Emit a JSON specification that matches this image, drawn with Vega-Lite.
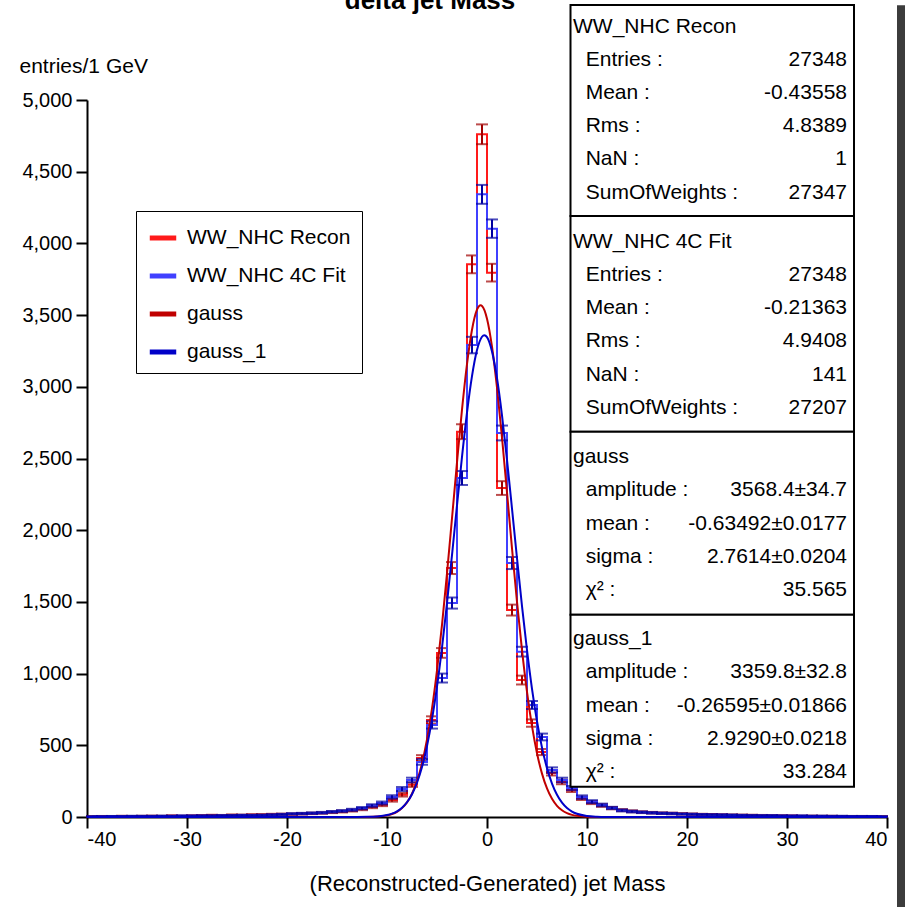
{
  "$schema": "https://vega.github.io/schema/vega-lite/v6.json",
  "width": 800,
  "height": 717,
  "autosize": {"type": "none"},
  "padding": {"left": 87, "top": 100, "right": 18, "bottom": 90},
  "background": "white",
  "config": {"font": "Liberation Sans", "view": {"stroke": null}},
  "title": {"text": "delta jet Mass", "font": "Liberation Sans", "fontSize": 26, "fontWeight": "bold", "color": "black", "anchor": "middle", "frame": "group", "dx": -57, "offset": -31, "baseline": "alphabetic"},
  "datasets": {
    "recon": [
      {"x":-39.5,"n":4,"e":2},{"x":-38.5,"n":5,"e":2.2},{"x":-37.5,"n":4,"e":2},{"x":-36.5,"n":6,"e":2.4},{"x":-35.5,"n":5,"e":2.2},{"x":-34.5,"n":6,"e":2.4},{"x":-33.5,"n":7,"e":2.6},{"x":-32.5,"n":6,"e":2.4},{"x":-31.5,"n":8,"e":2.8},{"x":-30.5,"n":7,"e":2.6},
      {"x":-29.5,"n":9,"e":3},{"x":-28.5,"n":10,"e":3.2},{"x":-27.5,"n":12,"e":3.5},{"x":-26.5,"n":11,"e":3.3},{"x":-25.5,"n":14,"e":3.7},{"x":-24.5,"n":13,"e":3.6},{"x":-23.5,"n":15,"e":3.9},{"x":-22.5,"n":16,"e":4},{"x":-21.5,"n":18,"e":4.2},{"x":-20.5,"n":19,"e":4.4},
      {"x":-19.5,"n":20,"e":4.5},{"x":-18.5,"n":22,"e":4.7},{"x":-17.5,"n":25,"e":5},{"x":-16.5,"n":28,"e":5.3},{"x":-15.5,"n":33,"e":5.7},{"x":-14.5,"n":38,"e":6.2},{"x":-13.5,"n":45,"e":6.7},{"x":-12.5,"n":55,"e":7.4},{"x":-11.5,"n":70,"e":8.4},{"x":-10.5,"n":85,"e":9.2},
      {"x":-9.5,"n":118,"e":10.9},{"x":-8.5,"n":155,"e":12.4},{"x":-7.5,"n":225,"e":15},{"x":-6.5,"n":411,"e":20.3},{"x":-5.5,"n":676,"e":26},{"x":-4.5,"n":1144,"e":33.8},{"x":-3.5,"n":1736,"e":41.7},{"x":-2.5,"n":2687,"e":51.8},{"x":-1.5,"n":3854,"e":62.1},{"x":-0.5,"n":4761,"e":69},
      {"x":0.5,"n":3796,"e":61.6},{"x":1.5,"n":2294,"e":47.9},{"x":2.5,"n":1443,"e":38},{"x":3.5,"n":955,"e":30.9},{"x":4.5,"n":655,"e":25.6},{"x":5.5,"n":453,"e":21.3},{"x":6.5,"n":307,"e":17.5},{"x":7.5,"n":244,"e":15.6},{"x":8.5,"n":188,"e":13.7},{"x":9.5,"n":130,"e":11.4},
      {"x":10.5,"n":100,"e":10},{"x":11.5,"n":80,"e":8.9},{"x":12.5,"n":62,"e":7.9},{"x":13.5,"n":48,"e":6.9},{"x":14.5,"n":40,"e":6.3},{"x":15.5,"n":34,"e":5.8},{"x":16.5,"n":30,"e":5.5},{"x":17.5,"n":27,"e":5.2},{"x":18.5,"n":25,"e":5},{"x":19.5,"n":22,"e":4.7},
      {"x":20.5,"n":20,"e":4.5},{"x":21.5,"n":18,"e":4.2},{"x":22.5,"n":17,"e":4.1},{"x":23.5,"n":15,"e":3.9},{"x":24.5,"n":14,"e":3.7},{"x":25.5,"n":13,"e":3.6},{"x":26.5,"n":12,"e":3.5},{"x":27.5,"n":11,"e":3.3},{"x":28.5,"n":10,"e":3.2},{"x":29.5,"n":9,"e":3},
      {"x":30.5,"n":8,"e":2.8},{"x":31.5,"n":7,"e":2.6},{"x":32.5,"n":7,"e":2.6},{"x":33.5,"n":6,"e":2.4},{"x":34.5,"n":6,"e":2.4},{"x":35.5,"n":5,"e":2.2},{"x":36.5,"n":5,"e":2.2},{"x":37.5,"n":5,"e":2.2},{"x":38.5,"n":4,"e":2},{"x":39.5,"n":4,"e":2}
    ],
    "fit": [
      {"x":-39.5,"n":4,"e":2},{"x":-38.5,"n":4,"e":2},{"x":-37.5,"n":5,"e":2.2},{"x":-36.5,"n":5,"e":2.2},{"x":-35.5,"n":6,"e":2.4},{"x":-34.5,"n":6,"e":2.4},{"x":-33.5,"n":6,"e":2.4},{"x":-32.5,"n":7,"e":2.6},{"x":-31.5,"n":7,"e":2.6},{"x":-30.5,"n":8,"e":2.8},
      {"x":-29.5,"n":8,"e":2.8},{"x":-28.5,"n":9,"e":3},{"x":-27.5,"n":9,"e":3},{"x":-26.5,"n":10,"e":3.2},{"x":-25.5,"n":11,"e":3.3},{"x":-24.5,"n":12,"e":3.5},{"x":-23.5,"n":12,"e":3.5},{"x":-22.5,"n":13,"e":3.6},{"x":-21.5,"n":15,"e":3.9},{"x":-20.5,"n":18,"e":4.2},
      {"x":-19.5,"n":22,"e":4.7},{"x":-18.5,"n":24,"e":4.9},{"x":-17.5,"n":27,"e":5.2},{"x":-16.5,"n":30,"e":5.5},{"x":-15.5,"n":36,"e":6},{"x":-14.5,"n":42,"e":6.5},{"x":-13.5,"n":50,"e":7.1},{"x":-12.5,"n":62,"e":7.9},{"x":-11.5,"n":80,"e":8.9},{"x":-10.5,"n":98,"e":9.9},
      {"x":-9.5,"n":140,"e":11.8},{"x":-8.5,"n":195,"e":14},{"x":-7.5,"n":258,"e":16.1},{"x":-6.5,"n":384,"e":19.6},{"x":-5.5,"n":642,"e":25.3},{"x":-4.5,"n":969,"e":31.1},{"x":-3.5,"n":1492,"e":38.6},{"x":-2.5,"n":2364,"e":48.6},{"x":-1.5,"n":3291,"e":57.4},{"x":-0.5,"n":4342,"e":65.9},
      {"x":0.5,"n":4103,"e":64.1},{"x":1.5,"n":2678,"e":51.7},{"x":2.5,"n":1771,"e":42.1},{"x":3.5,"n":1153,"e":34},{"x":4.5,"n":781,"e":27.9},{"x":5.5,"n":558,"e":23.6},{"x":6.5,"n":328,"e":18.1},{"x":7.5,"n":258,"e":16.1},{"x":8.5,"n":202,"e":14.2},{"x":9.5,"n":139,"e":11.8},
      {"x":10.5,"n":107,"e":10.3},{"x":11.5,"n":84,"e":9.2},{"x":12.5,"n":63,"e":7.9},{"x":13.5,"n":46,"e":6.8},{"x":14.5,"n":38,"e":6.2},{"x":15.5,"n":33,"e":5.7},{"x":16.5,"n":29,"e":5.4},{"x":17.5,"n":26,"e":5.1},{"x":18.5,"n":24,"e":4.9},{"x":19.5,"n":21,"e":4.6},
      {"x":20.5,"n":19,"e":4.4},{"x":21.5,"n":17,"e":4.1},{"x":22.5,"n":16,"e":4},{"x":23.5,"n":15,"e":3.9},{"x":24.5,"n":14,"e":3.7},{"x":25.5,"n":12,"e":3.5},{"x":26.5,"n":11,"e":3.3},{"x":27.5,"n":10,"e":3.2},{"x":28.5,"n":10,"e":3.2},{"x":29.5,"n":9,"e":3},
      {"x":30.5,"n":8,"e":2.8},{"x":31.5,"n":8,"e":2.8},{"x":32.5,"n":7,"e":2.6},{"x":33.5,"n":7,"e":2.6},{"x":34.5,"n":6,"e":2.4},{"x":35.5,"n":6,"e":2.4},{"x":36.5,"n":5,"e":2.2},{"x":37.5,"n":5,"e":2.2},{"x":38.5,"n":5,"e":2.2},{"x":39.5,"n":4,"e":2}
    ],
    "gR": [
      {"x":-40,"n":0},{"x":-13,"n":0.1},{"x":-12,"n":0.75},{"x":-11,"n":3.1},{"x":-10,"n":11.3},{"x":-9.5,"n":20.6},{"x":-9,"n":36.3},{"x":-8.5,"n":61.8},{"x":-8,"n":101.8},{"x":-7.5,"n":162.4},{"x":-7,"n":250.4},{"x":-6.5,"n":373.9},{"x":-6,"n":540.5},{"x":-5.5,"n":755.8},{"x":-5,"n":1023.1},{"x":-4.5,"n":1339.9},{"x":-4,"n":1698.3},{"x":-3.5,"n":2083.3},{"x":-3,"n":2472.8},{"x":-2.5,"n":2840.7},{"x":-2,"n":3157.9},{"x":-1.5,"n":3397.5},{"x":-1,"n":3537.4},{"x":-0.635,"n":3568.4},{"x":-0.5,"n":3564.1},{"x":0,"n":3475.3},{"x":0.5,"n":3279.4},{"x":1,"n":2994.7},{"x":1.5,"n":2646.6},{"x":2,"n":2263.5},{"x":2.5,"n":1873.3},{"x":3,"n":1500.3},{"x":3.5,"n":1163.1},{"x":4,"n":872.4},{"x":4.5,"n":633.3},{"x":5,"n":444.9},{"x":5.5,"n":302.4},{"x":6,"n":199},{"x":6.5,"n":126.7},{"x":7,"n":78.1},{"x":7.5,"n":46.6},{"x":8,"n":26.9},{"x":8.5,"n":15},{"x":9,"n":8.1},{"x":10,"n":2.1},{"x":11,"n":0.5},{"x":12,"n":0.1},{"x":40,"n":0}
    ],
    "gB": [
      {"x":-40,"n":0},{"x":-13,"n":0.2},{"x":-12,"n":1.1},{"x":-11,"n":4.1},{"x":-10,"n":13.4},{"x":-9.5,"n":23.3},{"x":-9,"n":39.4},{"x":-8.5,"n":64.6},{"x":-8,"n":102.9},{"x":-7.5,"n":159.1},{"x":-7,"n":239},{"x":-6.5,"n":348.8},{"x":-6,"n":494.4},{"x":-5.5,"n":680.7},{"x":-5,"n":910.1},{"x":-4.5,"n":1181.8},{"x":-4,"n":1490.7},{"x":-3.5,"n":1826.4},{"x":-3,"n":2173.3},{"x":-2.5,"n":2511.9},{"x":-2,"n":2819.8},{"x":-1.5,"n":3074.5},{"x":-1,"n":3256},{"x":-0.5,"n":3349.1},{"x":-0.266,"n":3359.8},{"x":0,"n":3346},{"x":0.5,"n":3246.8},{"x":1,"n":3060.2},{"x":1.5,"n":2801.4},{"x":2,"n":2490.9},{"x":2.5,"n":2151.1},{"x":3,"n":1804.4},{"x":3.5,"n":1470},{"x":4,"n":1163.2},{"x":4.5,"n":894},{"x":5,"n":667.5},{"x":5.5,"n":483.9},{"x":6,"n":340.8},{"x":6.5,"n":233.1},{"x":7,"n":154.9},{"x":7.5,"n":99.9},{"x":8,"n":62.6},{"x":8.5,"n":38.1},{"x":9,"n":22.5},{"x":10,"n":7.2},{"x":11,"n":2.1},{"x":12,"n":0.5},{"x":13,"n":0.1},{"x":40,"n":0}
    ],
    "stats": [
      {"kind":"h","line":0,"label":"WW_NHC Recon","value":""},
      {"kind":"r","line":1,"label":"Entries :","value":"27348"},
      {"kind":"r","line":2,"label":"Mean :","value":"-0.43558"},
      {"kind":"r","line":3,"label":"Rms :","value":"4.8389"},
      {"kind":"r","line":4,"label":"NaN :","value":"1"},
      {"kind":"r","line":5,"label":"SumOfWeights :","value":"27347"},
      {"kind":"h","line":6.5,"label":"WW_NHC 4C Fit","value":""},
      {"kind":"r","line":7.5,"label":"Entries :","value":"27348"},
      {"kind":"r","line":8.5,"label":"Mean :","value":"-0.21363"},
      {"kind":"r","line":9.5,"label":"Rms :","value":"4.9408"},
      {"kind":"r","line":10.5,"label":"NaN :","value":"141"},
      {"kind":"r","line":11.5,"label":"SumOfWeights :","value":"27207"},
      {"kind":"h","line":13,"label":"gauss","value":""},
      {"kind":"r","line":14,"label":"amplitude :","value":"3568.4±34.7"},
      {"kind":"r","line":15,"label":"mean :","value":"-0.63492±0.0177"},
      {"kind":"r","line":16,"label":"sigma :","value":"2.7614±0.0204"},
      {"kind":"r","line":17,"label":"χ² :","value":"35.565"},
      {"kind":"h","line":18.5,"label":"gauss_1","value":""},
      {"kind":"r","line":19.5,"label":"amplitude :","value":"3359.8±32.8"},
      {"kind":"r","line":20.5,"label":"mean :","value":"-0.26595±0.01866"},
      {"kind":"r","line":21.5,"label":"sigma :","value":"2.9290±0.0218"},
      {"kind":"r","line":22.5,"label":"χ² :","value":"33.284"}
    ]
  },
  "layer": [
    {
      "encoding": {
        "x": {"field": "x", "type": "quantitative", "scale": {"domain": [-40, 40], "nice": false, "zero": false},
          "axis": {"values": [-40,-30,-20,-10,0,10,20,30,40], "labelExpr": "datum.value", "grid": false, "title": "(Reconstructed-Generated) jet Mass",
            "labelFont": "Liberation Sans", "labelFontSize": 20, "labelColor": "black", "labelPadding": 1,
            "titleFont": "Liberation Sans", "titleFontSize": 22, "titleFontWeight": "normal", "titleColor": "black", "titlePadding": 24,
            "domainColor": "black", "domainWidth": 2, "tickColor": "black", "tickWidth": 2, "tickSize": 11,
            "encode": {"ticks": {"update": {"y": {"value": -11}}}}}},
        "y": {"field": "n", "type": "quantitative", "scale": {"domain": [0, 5000], "nice": false},
          "axis": {"values": [0,500,1000,1500,2000,2500,3000,3500,4000,4500,5000], "format": ",d", "grid": false, "title": "entries/1 GeV",
            "labelFont": "Liberation Sans", "labelFontSize": 20, "labelColor": "black", "labelPadding": 4,
            "titleFont": "Liberation Sans", "titleFontSize": 21, "titleFontWeight": "normal", "titleColor": "black",
            "titleAngle": 0, "titleAlign": "left", "titleBaseline": "middle", "titleX": -68, "titleY": -34,
            "domainColor": "black", "domainWidth": 2, "tickColor": "black", "tickWidth": 2, "tickSize": 11,
            "encode": {"ticks": {"update": {"x": {"value": 11}}}}}}
      },
      "layer": [
        {"data": {"name": "recon"}, "mark": {"type": "line", "interpolate": "step", "strokeWidth": 2},
          "encoding": {"color": {"datum": "WW_NHC Recon", "type": "nominal",
            "scale": {"domain": ["WW_NHC Recon", "WW_NHC 4C Fit", "gauss", "gauss_1"], "range": ["#ff1a1a", "#4040ff", "#c00000", "#0000c8"]},
            "legend": {"orient": "none", "legendX": 49, "legendY": 111, "title": null, "symbolType": "stroke", "symbolStrokeWidth": 5, "symbolSize": 700,
              "labelFont": "Liberation Sans", "labelFontSize": 21, "labelColor": "black", "labelLimit": 400, "rowPadding": 12, "labelOffset": 8, "padding": 11,
              "strokeColor": "black", "fillColor": "white"}}}},
        {"data": {"name": "recon"}, "mark": {"type": "errorbar", "ticks": true, "size": 12, "thickness": 2, "color": "#a00000"},
          "encoding": {"yError": {"field": "e"}}},
        {"data": {"name": "fit"}, "mark": {"type": "line", "interpolate": "step", "strokeWidth": 2},
          "encoding": {"color": {"datum": "WW_NHC 4C Fit", "type": "nominal"}}},
        {"data": {"name": "fit"}, "mark": {"type": "errorbar", "ticks": true, "size": 12, "thickness": 2, "color": "#0000a0"},
          "encoding": {"yError": {"field": "e"}}},
        {"data": {"name": "gR"}, "mark": {"type": "line", "interpolate": "monotone", "strokeWidth": 2},
          "encoding": {"color": {"datum": "gauss", "type": "nominal"}}},
        {"data": {"name": "gB"}, "mark": {"type": "line", "interpolate": "monotone", "strokeWidth": 2},
          "encoding": {"color": {"datum": "gauss_1", "type": "nominal"}}}
      ]
    },
    {
      "layer": [
        {"data": {"values": [{}]}, "mark": {"type": "rect", "fill": "white", "stroke": "black", "strokeWidth": 2},
          "encoding": {"x": {"datum": 8.35}, "x2": {"datum": 36.7},
            "y": {"datum": -0.665, "type": "quantitative", "scale": {"domain": [2.205, 23.867], "reverse": true, "nice": false, "zero": false}, "axis": null},
            "y2": {"datum": 5.71}}},
        {"data": {"values": [{}]}, "mark": {"type": "rect", "fill": "white", "stroke": "black", "strokeWidth": 2},
          "encoding": {"x": {"datum": 8.35}, "x2": {"datum": 36.7}, "y": {"datum": 5.71, "type": "quantitative", "axis": null}, "y2": {"datum": 12.23}}},
        {"data": {"values": [{}]}, "mark": {"type": "rect", "fill": "white", "stroke": "black", "strokeWidth": 2},
          "encoding": {"x": {"datum": 8.35}, "x2": {"datum": 36.7}, "y": {"datum": 12.23, "type": "quantitative", "axis": null}, "y2": {"datum": 17.76}}},
        {"data": {"values": [{}]}, "mark": {"type": "rect", "fill": "white", "stroke": "black", "strokeWidth": 2},
          "encoding": {"x": {"datum": 8.35}, "x2": {"datum": 36.7}, "y": {"datum": 17.76, "type": "quantitative", "axis": null}, "y2": {"datum": 22.95}}},
        {"data": {"values": [{}]}, "mark": {"type": "rect", "color": "#3c3c3c"},
          "encoding": {"x": {"datum": 41}, "x2": {"datum": 43}, "y": {"datum": -0.66, "type": "quantitative", "axis": null}, "y2": {"datum": 27.5}}},
        {"data": {"name": "stats"}, "transform": [{"filter": "datum.kind == 'h'"}],
          "mark": {"type": "text", "align": "left", "baseline": "middle", "font": "Liberation Sans", "fontSize": 21, "color": "black"},
          "encoding": {"x": {"datum": 8.6}, "y": {"field": "line", "type": "quantitative", "axis": null}, "text": {"field": "label"}}},
        {"data": {"name": "stats"}, "transform": [{"filter": "datum.kind == 'r'"}],
          "mark": {"type": "text", "align": "left", "baseline": "middle", "font": "Liberation Sans", "fontSize": 21, "color": "black"},
          "encoding": {"x": {"datum": 9.87}, "y": {"field": "line", "type": "quantitative", "axis": null}, "text": {"field": "label"}}},
        {"data": {"name": "stats"}, "transform": [{"filter": "datum.kind == 'r'"}],
          "mark": {"type": "text", "align": "right", "baseline": "middle", "font": "Liberation Sans", "fontSize": 21, "color": "black"},
          "encoding": {"x": {"datum": 36.0}, "y": {"field": "line", "type": "quantitative", "axis": null}, "text": {"field": "value"}}}
      ]
    }
  ],
  "resolve": {"scale": {"y": "independent"}, "axis": {"y": "independent"}}
}
